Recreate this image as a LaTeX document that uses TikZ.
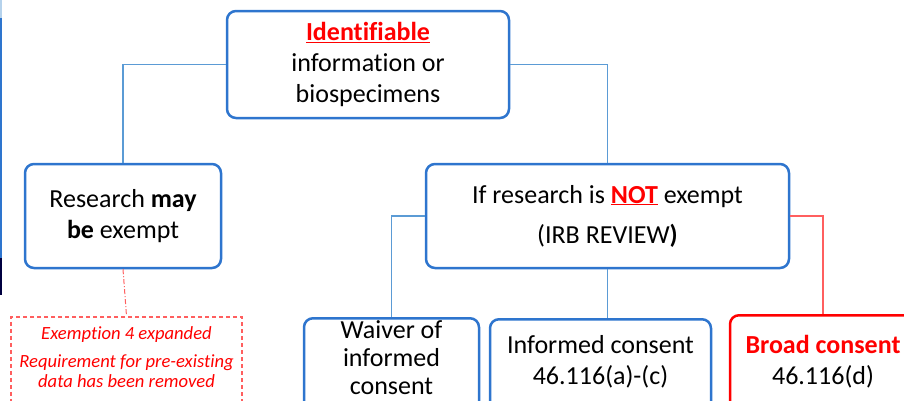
\documentclass[tikz,border=0pt]{standalone}
\usepackage{fontspec}
\setmainfont{Carlito}[Ligatures=CommonOff]
\usetikzlibrary{positioning}
\definecolor{boxblue}{RGB}{46,117,206}
\definecolor{lineblue}{RGB}{91,155,213}
\definecolor{linered}{RGB}{255,95,95}
\begin{document}
\begin{tikzpicture}[x=1pt, y=1pt,
		bluebox/.style={draw=boxblue, line width=2.5pt, rounded corners=9pt, fill=white, align=center, inner sep=0pt},
		redbox/.style={bluebox, draw=red},
		txt/.style={align=center, inner sep=0pt, font=\fontsize{26}{31}\selectfont},
		note/.style={align=center, inner sep=0pt, text=red, font=\fontsize{18.6}{20}\selectfont\itshape},
		link/.style={draw=lineblue, line width=1.2pt}]
		\useasboundingbox (0,0) rectangle (904,-400);
		\clip (0,0) rectangle (904,-400);

		\fill[lineblue!45] (0,0) rectangle (1.5,-18);
		\fill[boxblue] (0,-18) rectangle (1.5,-258);
		\fill[black!75!blue] (0,-258) rectangle (1.5,-295);

		\node[bluebox, txt, minimum width=282pt, minimum height=107pt] (idf) at (368,-64.5) {{\color{red}\bfseries\underline{Identifiable}}\\information or\\biospecimens};
		\node[bluebox, txt, minimum width=196pt, minimum height=104pt] (rsh) at (123,-216) {Research \textbf{may}\\\textbf{be} exempt};
		\node[bluebox, txt, minimum width=363pt, minimum height=104pt] (irb) at (607.5,-216) {If research is {\color{red}\bfseries\underline{NOT}} exempt\\[9pt](IRB REVIEW\textbf{)}};

		\node[draw=linered, line width=1.5pt, dash pattern=on 4pt off 3pt, minimum width=231pt, minimum height=100pt, anchor=north] (exm) at (126.5,-316) {};
		\node[note, below=10pt of exm.north] (exmtxt) {Exemption 4 expanded\\[8pt]Requirement for pre-existing\\data has been removed};

		\node[bluebox, minimum width=175pt, minimum height=100pt, anchor=north] (wv) at (391.5,-317) {};
		\node[txt, font=\fontsize{26}{28}\selectfont, below=3pt of wv.north] (wvtxt) {Waiver of\\informed\\consent};
		\node[bluebox, minimum width=221pt, minimum height=100pt, anchor=north] (inf) at (600.5,-318) {};
		\node[txt, below=17pt of inf.north] (inftxt) {Informed consent\\46.116(a)-(c)};
		\node[redbox, minimum width=186pt, minimum height=100pt, anchor=north] (brd) at (823,-314) {};
		\node[txt, below=21pt of brd.north] (brdtxt) {{\color{red}\bfseries Broad consent}\\46.116(d)};

		\draw[link] (idf.west) -| (rsh.north);
		\draw[link] (idf.east) -| (irb.north);
		\draw[draw=linered, line width=1pt, dash pattern=on 5pt off 2pt on 1pt off 2pt] (rsh.south) -- (exm.north);
		\draw[link] (irb.west) -| (wv.north);
		\draw[link] (irb.south) -- (irb.south |- inf.north);
		\draw[draw=linered, line width=1.2pt] (irb.east) -| (brd.north);
	\end{tikzpicture}
\end{document}
